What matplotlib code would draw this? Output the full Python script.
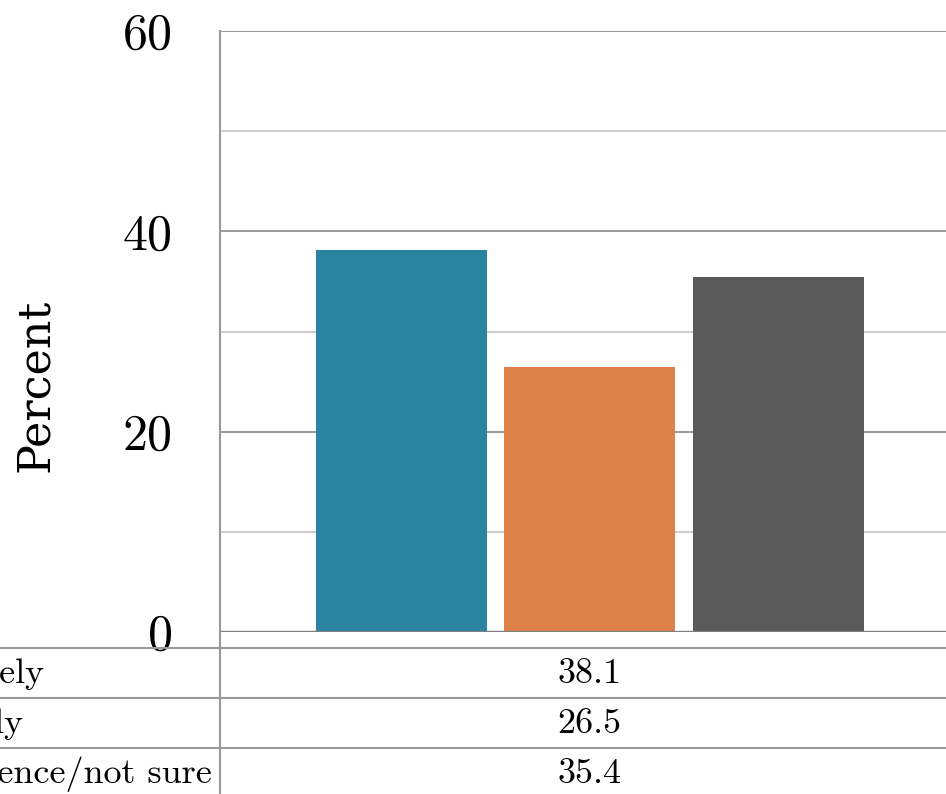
import matplotlib
matplotlib.use("Agg")
import matplotlib.pyplot as plt
from matplotlib.lines import Line2D
from matplotlib.transforms import blended_transform_factory
import numpy as np

plt.rcParams['axes.unicode_minus'] = False

# ---- data ----
categories = [""]
series_names = ["More likely", "Less likely", "No difference/not sure"]
values = [38.1, 26.5, 35.4]
colors = ["#2A83A0", "#DD8148", "#5A5A5A"]
yticks = [0, 20, 40, 60]
minor_ticks = [10, 30, 50]
ylabel = "Percent"

W, H = 946, 794
fig = plt.figure(figsize=(W / 100, H / 100), dpi=100)

def fx(px):
    return px / W

def fy(py):
    return 1 - py / H

ax_left, ax_right, ax_top, ax_bot = 220, 959, 31, 632
ax = fig.add_axes([fx(ax_left), fy(ax_bot), fx(ax_right - ax_left), (ax_bot - ax_top) / H])

ax.set_xlim(-0.5, 0.5)
ax.set_ylim(0, 60)

bar_w = 171 / (ax_right - ax_left)
step = 188.5 / (ax_right - ax_left)
offsets = (np.arange(len(values)) - (len(values) - 1) / 2) * step
for off, v, c in zip(offsets, values, colors):
    ax.bar(0 + off, v, width=bar_w, color=c, zorder=3)

# grid
for t in yticks[1:]:
    ax.axhline(t, color="#9a9a9a", lw=1.4, zorder=1)
for t in minor_ticks:
    ax.axhline(t, color="#cccccc", lw=1.4, zorder=1)
ax.axhline(0, color="#7f7f7f", lw=2.4, zorder=4)

for s in ["top", "right", "bottom"]:
    ax.spines[s].set_visible(False)
ax.spines["left"].set_color("#9a9a9a")
ax.spines["left"].set_linewidth(1.5)

ax.set_xticks([])
ax.set_yticks(yticks)
ax.set_yticklabels([str(t) for t in yticks], fontfamily="cmr10", fontsize=36)
ax.tick_params(axis="y", length=0, pad=34)

fig.text(fx(35), fy(385), ylabel, rotation=90, ha="center", va="center",
         fontfamily="DejaVu Serif", fontsize=32)

# ---- data table ----
row_lines = [648, 698, 748]
for py in row_lines:
    fig.add_artist(Line2D([0, 1], [fy(py), fy(py)], color="#9a9a9a", lw=1.5))
fig.add_artist(Line2D([fx(ax_left), fx(ax_left)], [fy(ax_bot), 0], color="#9a9a9a", lw=1.5))

label_right = [44, 23, 212]
trans = blended_transform_factory(ax.transData, fig.transFigure)
for i, (name, v) in enumerate(zip(series_names, values)):
    ymid = row_lines[0] + 25 + 50 * i
    fig.text(fx(label_right[i]), fy(ymid + 1), name, ha="right", va="center",
             fontfamily="cmr10", fontsize=26)
    ax.text(0, fy(ymid + 1), f"{v:.1f}", transform=trans, ha="center", va="center",
            fontfamily="cmr10", fontsize=26, clip_on=False)

fig.savefig("out.png", dpi=100)
